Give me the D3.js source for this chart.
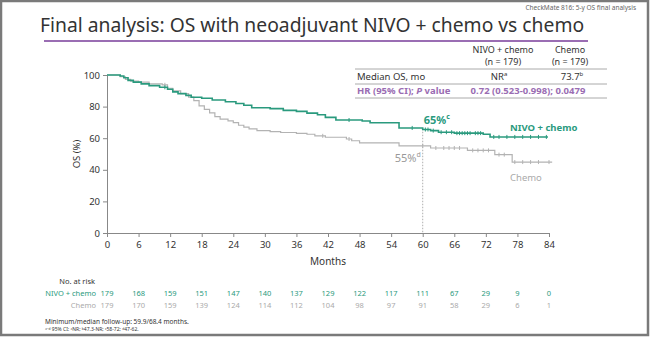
<!DOCTYPE html>
<html>
<head>
<meta charset="utf-8">
<script src="https://cdn.jsdelivr.net/npm/d3@7"></script>
<style>
  body { margin: 0; background: #fff; }
  svg { display: block; font-family: "Noto Sans", "Open Sans", sans-serif; }
</style>
</head>
<body>
<div id="chart"></div>
<script>
// Kaplan-Meier steps (month, OS %)
var nivoTimes = [0, 2.5, 3.2, 4, 5, 6.5, 8, 10, 11.5, 12.5, 13.5, 15, 16, 18, 20, 22.5, 24.5, 26, 27.5, 31, 33.5, 36, 38, 40, 41.5, 43.5, 48.5, 50, 55.5, 60, 61.5, 63, 66, 71.5, 72.8, 83.8];
var nivoSurv  = [100, 99.4, 98.3, 96.6, 95.5, 94.4, 93.3, 92.2, 91, 89.3, 88.2, 87.1, 85.9, 85.3, 84.2, 83.1, 82, 80.9, 79.3, 78.7, 77.6, 77, 75.9, 74.8, 73.2, 71.5, 70.9, 69.8, 66.5, 65.5, 64.8, 63.8, 63.2, 62.5, 60.8, 60.8];
var chemoTimes = [0, 2.5, 3.5, 4.5, 6, 8, 10.5, 11.5, 12.5, 14, 15.5, 16.5, 17.5, 18.5, 19.5, 20.5, 21.5, 23, 24, 25, 26, 27, 28.5, 31, 33, 36, 38, 39.5, 41.5, 45.5, 46.5, 48, 55.5, 61.5, 68.5, 73.7, 77, 84.6];
var chemoSurv  = [100, 98.9, 97.2, 96.1, 95.5, 94.4, 93.8, 91.6, 89.9, 88.2, 86, 83.8, 80.4, 78.2, 76, 73.7, 72.1, 71, 69.8, 68.2, 67, 65.9, 64.8, 64.2, 63.6, 63, 62.5, 61.5, 60.6, 59.5, 58.4, 57, 55.2, 53.8, 52.3, 49.6, 44.9, 44.9];
var nivoCensor  = [11, 46, 58, 60.5, 61, 62, 63.5, 64.5, 65.5, 66.5, 67, 67.5, 68, 68.5, 69, 70, 70.5, 71, 73.5, 74.5, 76, 77.5, 79, 80.5, 82, 83.5];
var chemoCensor = [11, 41, 46, 60, 62.5, 64, 65, 66, 67, 69.5, 70.5, 71.5, 72.5, 74.5, 75.5, 77.5, 79, 80.5, 82, 84];

var xTicks = [0, 6, 12, 18, 24, 30, 36, 42, 48, 54, 60, 66, 72, 78, 84];
var yTicks = [0, 20, 40, 60, 80, 100];
var riskNivo  = [179, 168, 159, 151, 147, 140, 137, 129, 122, 117, 111, 67, 29, 9, 0];
var riskChemo = [179, 170, 159, 139, 124, 114, 112, 104, 98, 97, 91, 58, 29, 6, 1];

var W = 650, H = 337;
var green = "#2a9a7e", grey = "#b3b3b3", purple = "#9a6db3", ink = "#333";

var svg = d3.select("#chart").append("svg").attr("width", W).attr("height", H);

// slide frame
svg.append("rect").attr("x", 1).attr("y", 1).attr("width", W - 3).attr("height", H - 3)
  .attr("fill", "#fff").attr("stroke", "#7a7a7a").attr("stroke-width", 2.5);

svg.append("text").attr("x", 636).attr("y", 10).attr("text-anchor", "end")
  .attr("font-size", 6.5).attr("fill", "#666").text("CheckMate 816: 5-y OS final analysis");

svg.append("text").attr("x", 40).attr("y", 32).attr("font-size", 19.3).attr("fill", ink)
  .text("Final analysis: OS with neoadjuvant NIVO + chemo vs chemo");
svg.append("line").attr("x1", 44).attr("x2", 588).attr("y1", 41).attr("y2", 41)
  .attr("stroke", purple).attr("stroke-width", 2);

// summary table
var tbl = svg.append("g").attr("font-size", 9.5);
[["NIVO + chemo", 503], ["Chemo", 570]].forEach(function (h) {
  tbl.append("text").attr("x", h[1]).attr("y", 53).attr("font-size", 9).attr("text-anchor", "middle").attr("fill", ink).text(h[0]);
  tbl.append("text").attr("x", h[1]).attr("y", 65).attr("font-size", 9).attr("text-anchor", "middle").attr("fill", ink).text("(n = 179)");
});
[69, 84, 98].forEach(function (y) {
  tbl.append("line").attr("x1", 355).attr("x2", 607).attr("y1", y).attr("y2", y)
    .attr("stroke", "#aaa").attr("stroke-width", 1);
});
tbl.append("text").attr("x", 357).attr("y", 80).attr("fill", ink).text("Median OS, mo");
var nr = tbl.append("text").attr("x", 499).attr("y", 80).attr("text-anchor", "middle").attr("fill", ink);
nr.append("tspan").text("NR");
nr.append("tspan").attr("font-size", 6).attr("dy", -4).text("a");
var m7 = tbl.append("text").attr("x", 572).attr("y", 80).attr("text-anchor", "middle").attr("fill", ink);
m7.append("tspan").text("73.7");
m7.append("tspan").attr("font-size", 6).attr("dy", -4).text("b");
var hr = tbl.append("text").attr("x", 357).attr("y", 94).attr("fill", purple).attr("font-weight", "bold");
hr.append("tspan").text("HR (95% CI); ");
hr.append("tspan").attr("font-style", "italic").text("P");
hr.append("tspan").text(" value");
tbl.append("text").attr("x", 528).attr("y", 94).attr("text-anchor", "middle").attr("fill", purple)
  .attr("font-weight", "bold").text("0.72 (0.523-0.998); 0.0479");

// plot
var x = d3.scaleLinear().domain([0, 84]).range([107, 549]);
var y = d3.scaleLinear().domain([0, 100]).range([233, 75]);

var xAxis = svg.append("g").attr("transform", "translate(0," + y(0) + ")")
  .call(d3.axisBottom(x).tickValues(xTicks).tickSize(4).tickPadding(4));
var yAxis = svg.append("g").attr("transform", "translate(" + x(0) + ",0)")
  .call(d3.axisLeft(y).tickValues(yTicks).tickSize(4).tickPadding(3));
[xAxis, yAxis].forEach(function (a) {
  a.select(".domain").attr("stroke", "#888");
  a.selectAll(".tick line").attr("stroke", "#888");
  a.selectAll("text").attr("font-size", 9.5).attr("fill", ink).attr("font-family", "Noto Sans, sans-serif");
});

svg.append("text").attr("transform", "translate(80," + y(50) + ") rotate(-90)")
  .attr("text-anchor", "middle").attr("font-size", 9.5).attr("fill", ink).text("OS (%)");
svg.append("text").attr("x", x(42)).attr("y", 265).attr("text-anchor", "middle")
  .attr("font-size", 10).attr("fill", ink).text("Months");

// 60-month reference line
svg.append("line").attr("x1", x(60)).attr("x2", x(60)).attr("y1", y(66)).attr("y2", y(0))
  .attr("stroke", "#999").attr("stroke-width", 0.8).attr("stroke-dasharray", "1.5,1.5");

var step = d3.line().x(function (d) { return x(d[0]); }).y(function (d) { return y(d[1]); })
  .curve(d3.curveStepAfter);

function survAt(times, surv, t) {
  var i = d3.bisectRight(times, t) - 1;
  return surv[Math.max(0, i)];
}

function drawCurve(times, surv, censor, color, width) {
  var pts = times.map(function (t, i) { return [t, surv[i]]; });
  svg.append("path").datum(pts).attr("d", step).attr("fill", "none")
    .attr("stroke", color).attr("stroke-width", width);
  svg.append("g").selectAll("line").data(censor).join("line")
    .attr("x1", function (d) { return x(d); }).attr("x2", function (d) { return x(d); })
    .attr("y1", function (d) { return y(survAt(times, surv, d)) - 2; })
    .attr("y2", function (d) { return y(survAt(times, surv, d)) + 2; })
    .attr("stroke", color).attr("stroke-width", 1);
}
drawCurve(chemoTimes, chemoSurv, chemoCensor, grey, 1.2);
drawCurve(nivoTimes, nivoSurv, nivoCensor, green, 1.6);

// annotations
var a65 = svg.append("text").attr("x", x(60) + 1).attr("y", 124).attr("fill", green)
  .attr("font-size", 11).attr("font-weight", "bold");
a65.append("tspan").text("65%");
a65.append("tspan").attr("font-size", 7).attr("dy", -5).text("c");
var a55 = svg.append("text").attr("x", x(60) - 2).attr("y", 162).attr("text-anchor", "end")
  .attr("fill", "#999").attr("font-size", 11);
a55.append("tspan").text("55%");
a55.append("tspan").attr("font-size", 7).attr("dy", -5).text("d");
svg.append("text").attr("x", 510).attr("y", 131).attr("fill", green).attr("font-size", 9.5)
  .attr("font-weight", "bold").text("NIVO + chemo");
svg.append("text").attr("x", 510).attr("y", 181).attr("fill", "#aaa").attr("font-size", 9.5)
  .text("Chemo");

// number at risk
var risk = svg.append("g").attr("font-size", 7.5);
risk.append("text").attr("x", 95).attr("y", 284).attr("text-anchor", "end").attr("fill", ink).text("No. at risk");
risk.append("text").attr("x", 96).attr("y", 296).attr("text-anchor", "end").attr("fill", green).text("NIVO + chemo");
risk.append("text").attr("x", 96).attr("y", 308).attr("text-anchor", "end").attr("fill", "#aaa").text("Chemo");
risk.append("g").selectAll("text").data(riskNivo).join("text")
  .attr("x", function (d, i) { return x(xTicks[i]); }).attr("y", 296).attr("text-anchor", "middle")
  .attr("fill", green).text(function (d) { return d; });
risk.append("g").selectAll("text").data(riskChemo).join("text")
  .attr("x", function (d, i) { return x(xTicks[i]); }).attr("y", 308).attr("text-anchor", "middle")
  .attr("fill", "#aaa").text(function (d) { return d; });

// footnotes
svg.append("text").attr("x", 45).attr("y", 324).attr("font-size", 6.5).attr("fill", ink)
  .text("Minimum/median follow-up: 59.9/68.4 months.");
svg.append("text").attr("x", 45).attr("y", 331).attr("font-size", 5).attr("fill", ink)
  .text("\u1d43\u207b\u1d48 95% CI: \u1d43NR; \u1d4747.3-NR; \u1d9c58-72; \u1d4847-62.");
</script>
</body>
</html>
